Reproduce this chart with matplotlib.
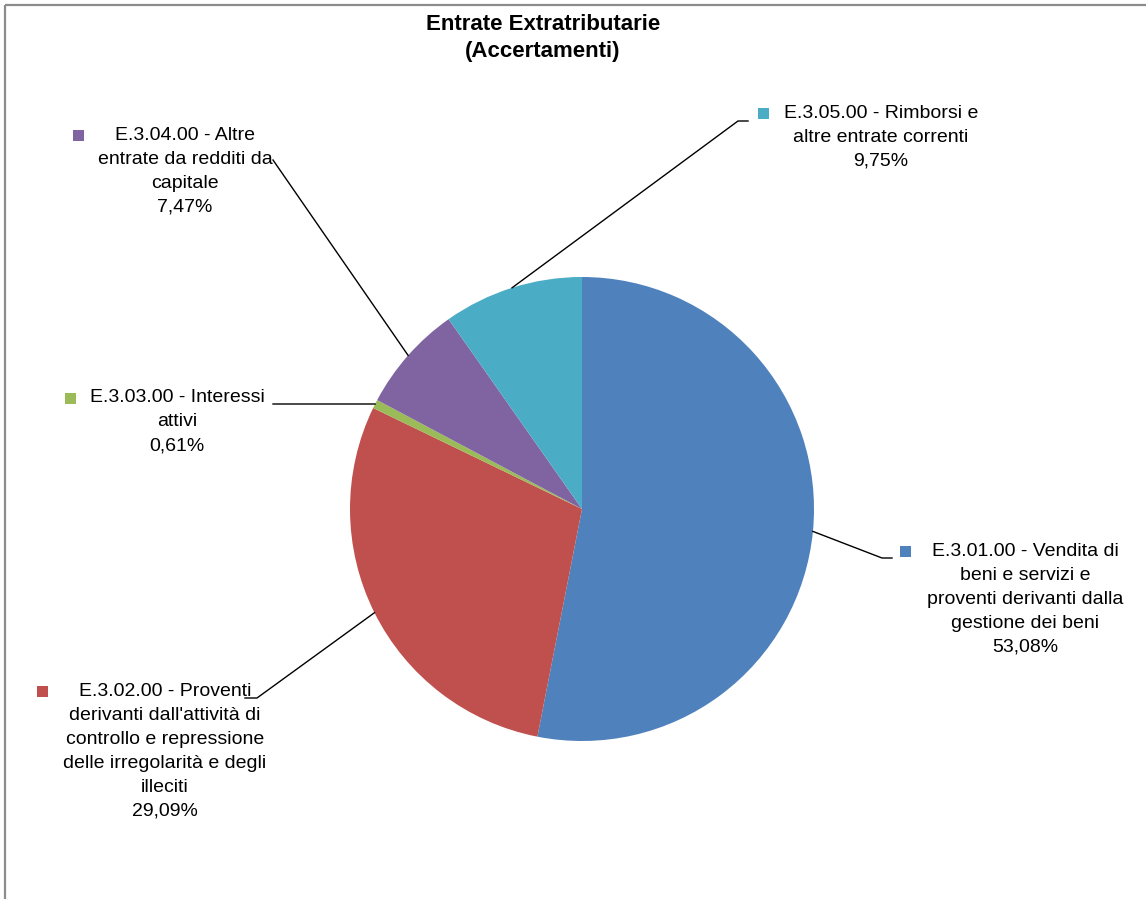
import matplotlib
matplotlib.use("Agg")
import matplotlib.pyplot as plt
import numpy as np

# ---- data ----
categories = [
    "E.3.01.00 - Vendita di beni e servizi e proventi derivanti dalla gestione dei beni",
    "E.3.02.00 - Proventi derivanti dall'attività di controllo e repressione delle irregolarità e degli illeciti",
    "E.3.03.00 - Interessi attivi",
    "E.3.04.00 - Altre entrate da redditi da capitale",
    "E.3.05.00 - Rimborsi e altre entrate correnti",
]
values = [53.08, 29.09, 0.61, 7.47, 9.75]
colors = ["#4F81BD", "#C0504D", "#9BBB59", "#8064A2", "#4BACC6"]
title_lines = ["Entrate Extratributarie", "(Accertamenti)"]

# ---- layout (pixel coordinates, y measured from top) ----
W, H = 1146, 899
label_wrap = [
    ["E.3.01.00 - Vendita di", "beni e servizi e", "proventi derivanti dalla", "gestione dei beni"],
    ["E.3.02.00 - Proventi", "derivanti dall'attività di", "controllo e repressione",
     "delle irregolarità e degli", "illeciti"],
    ["E.3.03.00 - Interessi", "attivi"],
    ["E.3.04.00 - Altre", "entrate da redditi da", "capitale"],
    ["E.3.05.00 - Rimborsi e", "altre entrate correnti"],
]
label_center_x = [1025, 165, 177, 185, 881]
label_first_y = [551, 691, 398, 135, 113]
key_x = [905, 42, 70, 78, 763]
elbow = [(882, 558), (257, 698), (273, 404), (273, 160), (738, 121)]
elbow_end = [(892, 558), (245, 698), (273, 404), (273, 160), (748, 121)]
line_step = 24
cx, cy, R = 582, 509, 232

plt.rcParams['font.family'] = ['Liberation Sans', 'DejaVu Sans']
fig = plt.figure(figsize=(W / 100, H / 100), dpi=100)
ax = fig.add_axes([0, 0, 1, 1])

def Y(py):
    return H - py

wedges, _ = ax.pie(values, colors=colors, startangle=90, counterclock=False,
                   center=(cx, Y(cy)), radius=R, frame=True,
                   wedgeprops=dict(linewidth=0))
ax.set_xlim(0, W)
ax.set_ylim(0, H)
ax.set_aspect('equal')
ax.axis('off')

# frame lines (top and left)
ax.plot([5, W], [Y(5), Y(5)], color="#8C8C8C", lw=1.6, solid_capstyle='butt')
ax.plot([5, 5], [Y(5), 0], color="#8C8C8C", lw=1.6, solid_capstyle='butt')

# title
ax.text(543, Y(24), title_lines[0], ha='center', va='center', fontsize=16, fontweight='bold')
ax.text(543, Y(51), title_lines[1], ha='center', va='center', fontsize=16, fontweight='bold')

fs = 14
for i, w in enumerate(wedges):
    mid = np.deg2rad((w.theta1 + w.theta2) / 2)
    px = cx + R * np.cos(mid)
    py = Y(cy) + R * np.sin(mid)
    ex, ey = elbow[i]
    fx, fy = elbow_end[i]
    ax.plot([px, ex, fx], [py, Y(ey), Y(fy)], color='black', lw=1.0)
    lines = label_wrap[i] + [f"{values[i]:.2f}".replace('.', ',') + "%"]
    for j, ln in enumerate(lines):
        ax.text(label_center_x[i], Y(label_first_y[i] + j * line_step), ln,
                ha='center', va='center', fontsize=fs, color='black')
    ax.add_patch(plt.Rectangle((key_x[i] - 5.5, Y(label_first_y[i]) - 5.5), 11, 11,
                               facecolor=colors[i], edgecolor='none'))

fig.savefig("out.png", dpi=100, facecolor='white')
